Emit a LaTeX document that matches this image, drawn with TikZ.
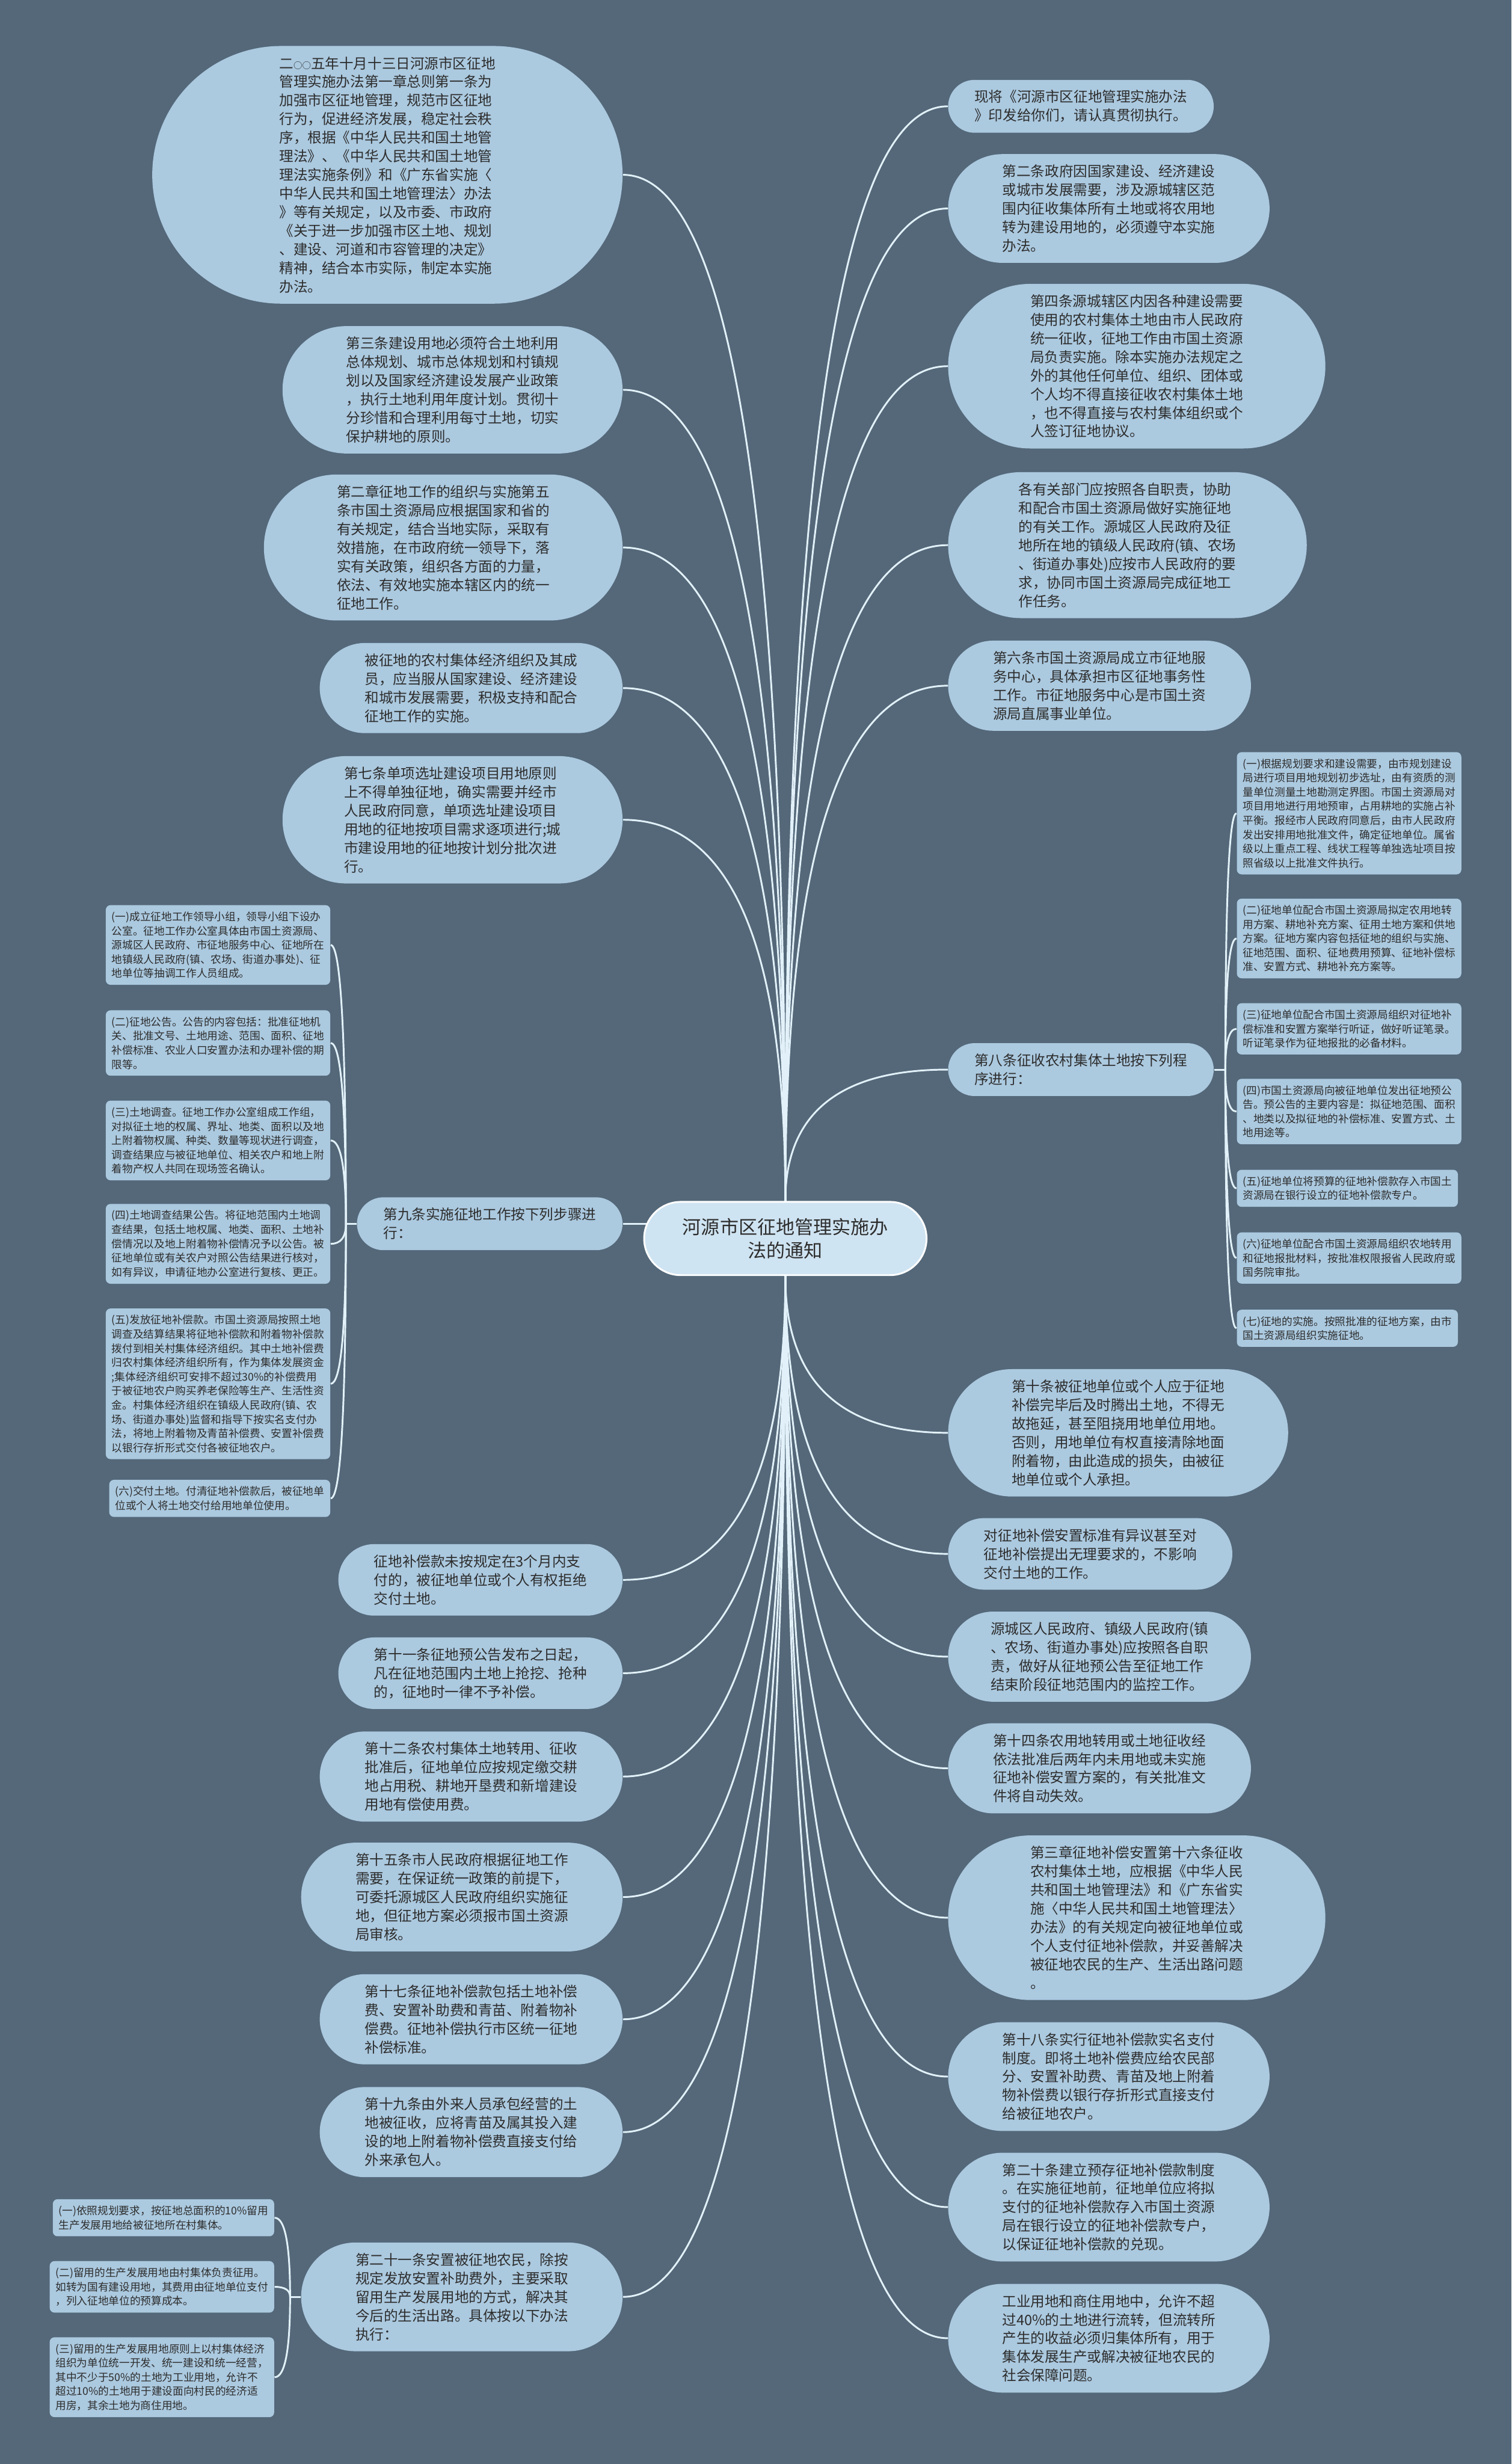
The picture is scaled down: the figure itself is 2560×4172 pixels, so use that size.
\documentclass[tikz,border=0pt]{standalone}
\usepackage{fontspec}
\setmainfont{Noto Sans CJK SC}
\usetikzlibrary{calc, shapes.misc}
\definecolor{slate}{RGB}{84,104,121}
\definecolor{pale}{RGB}{171,201,223}
\definecolor{rootblue}{RGB}{207,228,242}
\definecolor{wire}{RGB}{226,241,249}
\definecolor{ink}{RGB}{45,45,45}
\pgfdeclarelayer{canvas}
\pgfdeclarelayer{wires}
\pgfsetlayers{canvas,wires,main}

\begin{document}
\begin{tikzpicture}[x=0.01cm, y=-0.01cm,
    root/.style={rounded rectangle, fill=rootblue, draw=white, line width=0.03cm,
                 text=ink, align=center, inner sep=0.05cm,
                 minimum width=4.88cm, minimum height=1.24cm,
                 font=\fontsize{9pt}{11.4pt}\selectfont},
    % #1 = number of text lines
    topic/.style={rounded rectangle, fill=pale, text=ink, align=left,
                  inner sep=0.05cm,
                  minimum width={(0.315*#1+3.965)*1cm},
                  minimum height={(0.315*#1+0.265)*1cm},
                  font=\fontsize{6.83pt}{8.96pt}\selectfont},
    note/.style={rectangle, fill=pale, rounded corners=0.08cm, text=ink,
                 align=left, inner xsep=0.1cm, inner ysep=0.11cm,
                 font=\fontsize{5.12pt}{6.83pt}\selectfont},
    link/.style={draw=wire, line width=0.03cm},
    branch/.style={to path={.. controls ($(\tikztostart)!0.667!(\tikztostart |- \tikztotarget)$)
                   and ($(\tikztotarget)!0.667!(\tikztostart |- \tikztotarget)$) .. (\tikztotarget)}}]

\useasboundingbox (0,0) rectangle (2560,4172);
\begin{pgfonlayer}{canvas}
\fill[slate] (0,0) rectangle (2560,4172);
\end{pgfonlayer}

% ════════════════════════════════════════
%  CENTER
% ════════════════════════════════════════
\node[root] (ctr) at (1330,2097) {河源市区征地管理实施办\\法的通知};

% ════════════════════════════════════════
%  LEFT: articles
% ════════════════════════════════════════
\node[topic=13, anchor=east] (art1) at (1055,296)
    {二{\fontsize{4.2pt}{4.2pt}\selectfont ○○}五年十月十三日河源市区征地\\管理实施办法第一章总则第一条为\\加强市区征地管理，规范市区征地\\行为，促进经济发展，稳定社会秩\\序，根据《中华人民共和国土地管\\理法》、《中华人民共和国土地管\\理法实施条例》和《广东省实施〈\\中华人民共和国土地管理法〉办法\\》等有关规定，以及市委、市政府\\《关于进一步加强市区土地、规划\\、建设、河道和市容管理的决定》\\精神，结合本市实际，制定本实施\\办法。};
\node[topic=6, anchor=east] (art3) at (1055,660)
    {第三条建设用地必须符合土地利用\\总体规划、城市总体规划和村镇规\\划以及国家经济建设发展产业政策\\，执行土地利用年度计划。贯彻十\\分珍惜和合理利用每寸土地，切实\\保护耕地的原则。};
\node[topic=7, anchor=east] (art5) at (1055,927)
    {第二章征地工作的组织与实施第五\\条市国土资源局应根据国家和省的\\有关规定，结合当地实际，采取有\\效措施，在市政府统一领导下，落\\实有关政策，组织各方面的力量，\\依法、有效地实施本辖区内的统一\\征地工作。};
\node[topic=4, anchor=east] (obey) at (1055,1165)
    {被征地的农村集体经济组织及其成\\员，应当服从国家建设、经济建设\\和城市发展需要，积极支持和配合\\征地工作的实施。};
\node[topic=6, anchor=east] (art7) at (1055,1388)
    {第七条单项选址建设项目用地原则\\上不得单独征地，确实需要并经市\\人民政府同意，单项选址建设项目\\用地的征地按项目需求逐项进行;城\\市建设用地的征地按计划分批次进\\行。};

% Article 9 and its steps
\node[topic=2, anchor=east] (art9) at (1055,2072)
    {第九条实施征地工作按下列步骤进\\行：};
\node[note, anchor=east] (s91) at (560,1600)
    {(一)成立征地工作领导小组，领导小组下设办\\公室。征地工作办公室具体由市国土资源局、\\源城区人民政府、市征地服务中心、征地所在\\地镇级人民政府(镇、农场、街道办事处)、征\\地单位等抽调工作人员组成。};
\node[note, anchor=east] (s92) at (560,1766)
    {(二)征地公告。公告的内容包括：批准征地机\\关、批准文号、土地用途、范围、面积、征地\\补偿标准、农业人口安置办法和办理补偿的期\\限等。};
\node[note, anchor=east] (s93) at (560,1931)
    {(三)土地调查。征地工作办公室组成工作组，\\对拟征土地的权属、界址、地类、面积以及地\\上附着物权属、种类、数量等现状进行调查，\\调查结果应与被征地单位、相关农户和地上附\\着物产权人共同在现场签名确认。};
\node[note, anchor=east] (s94) at (560,2106)
    {(四)土地调查结果公告。将征地范围内土地调\\查结果，包括土地权属、地类、面积、土地补\\偿情况以及地上附着物补偿情况予以公告。被\\征地单位或有关农户对照公告结果进行核对，\\如有异议，申请征地办公室进行复核、更正。};
\node[note, anchor=east] (s95) at (560,2343)
    {(五)发放征地补偿款。市国土资源局按照土地\\调查及结算结果将征地补偿款和附着物补偿款\\拨付到相关村集体经济组织。其中土地补偿费\\归农村集体经济组织所有，作为集体发展资金\\;集体经济组织可安排不超过30\%的补偿费用\\于被征地农户购买养老保险等生产、生活性资\\金。村集体经济组织在镇级人民政府(镇、农\\场、街道办事处)监督和指导下按实名支付办\\法，将地上附着物及青苗补偿费、安置补偿费\\以银行存折形式交付各被征地农户。};
\node[note, anchor=east] (s96) at (560,2537)
    {(六)交付土地。付清征地补偿款后，被征地单\\位或个人将土地交付给用地单位使用。};

\node[topic=3, anchor=east] (pay3m) at (1055,2675)
    {征地补偿款未按规定在3个月内支\\付的，被征地单位或个人有权拒绝\\交付土地。};
\node[topic=3, anchor=east] (art11) at (1055,2833)
    {第十一条征地预公告发布之日起，\\凡在征地范围内土地上抢挖、抢种\\的，征地时一律不予补偿。};
\node[topic=4, anchor=east] (art12) at (1055,3008)
    {第十二条农村集体土地转用、征收\\批准后，征地单位应按规定缴交耕\\地占用税、耕地开垦费和新增建设\\用地有偿使用费。};
\node[topic=5, anchor=east] (art15) at (1055,3212)
    {第十五条市人民政府根据征地工作\\需要，在保证统一政策的前提下，\\可委托源城区人民政府组织实施征\\地，但征地方案必须报市国土资源\\局审核。};
\node[topic=4, anchor=east] (art17) at (1055,3419)
    {第十七条征地补偿款包括土地补偿\\费、安置补助费和青苗、附着物补\\偿费。征地补偿执行市区统一征地\\补偿标准。};
\node[topic=4, anchor=east] (art19) at (1055,3610)
    {第十九条由外来人员承包经营的土\\地被征收，应将青苗及属其投入建\\设的地上附着物补偿费直接支付给\\外来承包人。};

% Article 21 and its measures
\node[topic=5, anchor=east] (art21) at (1055,3889)
    {第二十一条安置被征地农民，除按\\规定发放安置补助费外，主要采取\\留用生产发展用地的方式，解决其\\今后的生活出路。具体按以下办法\\执行：};
\node[note, anchor=east] (s211) at (465,3755)
    {(一)依照规划要求，按征地总面积的10\%留用\\生产发展用地给被征地所在村集体。};
\node[note, anchor=east] (s212) at (465,3872)
    {(二)留用的生产发展用地由村集体负责征用。\\如转为国有建设用地，其费用由征地单位支付\\，列入征地单位的预算成本。};
\node[note, anchor=east] (s213) at (465,4025)
    {(三)留用的生产发展用地原则上以村集体经济\\组织为单位统一开发、统一建设和统一经营，\\其中不少于50\%的土地为工业用地，允许不\\超过10\%的土地用于建设面向村民的经济适\\用房，其余土地为商住用地。};

% ════════════════════════════════════════
%  RIGHT: articles
% ════════════════════════════════════════
\node[topic=2, anchor=west] (notice) at (1605,180)
    {现将《河源市区征地管理实施办法\\》印发给你们，请认真贯彻执行。};
\node[topic=5, anchor=west] (art2) at (1605,353)
    {第二条政府因国家建设、经济建设\\或城市发展需要，涉及源城辖区范\\围内征收集体所有土地或将农用地\\转为建设用地的，必须遵守本实施\\办法。};
\node[topic=8, anchor=west] (art4) at (1605,620)
    {第四条源城辖区内因各种建设需要\\使用的农村集体土地由市人民政府\\统一征收，征地工作由市国土资源\\局负责实施。除本实施办法规定之\\外的其他任何单位、组织、团体或\\个人均不得直接征收农村集体土地\\，也不得直接与农村集体组织或个\\人签订征地协议。};
\node[topic=7, anchor=west] (depts) at (1605,923)
    {各有关部门应按照各自职责，协助\\和配合市国土资源局做好实施征地\\的有关工作。源城区人民政府及征\\地所在地的镇级人民政府(镇、农场\\、街道办事处)应按市人民政府的要\\求，协同市国土资源局完成征地工\\作任务。};
\node[topic=4, anchor=west] (art6) at (1605,1161)
    {第六条市国土资源局成立市征地服\\务中心，具体承担市区征地事务性\\工作。市征地服务中心是市国土资\\源局直属事业单位。};

% Article 8 and its procedure
\node[topic=2, anchor=west] (art8) at (1605,1811)
    {第八条征收农村集体土地按下列程\\序进行：};
\node[note, anchor=west] (s81) at (2094,1377)
    {(一)根据规划要求和建设需要，由市规划建设\\局进行项目用地规划初步选址，由有资质的测\\量单位测量土地勘测定界图。市国土资源局对\\项目用地进行用地预审，占用耕地的实施占补\\平衡。报经市人民政府同意后，由市人民政府\\发出安排用地批准文件，确定征地单位。属省\\级以上重点工程、线状工程等单独选址项目按\\照省级以上批准文件执行。};
\node[note, anchor=west] (s82) at (2094,1589)
    {(二)征地单位配合市国土资源局拟定农用地转\\用方案、耕地补充方案、征用土地方案和供地\\方案。征地方案内容包括征地的组织与实施、\\征地范围、面积、征地费用预算、征地补偿标\\准、安置方式、耕地补充方案等。};
\node[note, anchor=west] (s83) at (2094,1742)
    {(三)征地单位配合市国土资源局组织对征地补\\偿标准和安置方案举行听证，做好听证笔录。\\听证笔录作为征地报批的必备材料。};
\node[note, anchor=west] (s84) at (2094,1882)
    {(四)市国土资源局向被征地单位发出征地预公\\告。预公告的主要内容是：拟征地范围、面积\\、地类以及拟征地的补偿标准、安置方式、土\\地用途等。};
\node[note, anchor=west] (s85) at (2094,2012)
    {(五)征地单位将预算的征地补偿款存入市国土\\资源局在银行设立的征地补偿款专户。};
\node[note, anchor=west] (s86) at (2094,2130)
    {(六)征地单位配合市国土资源局组织农地转用\\和征地报批材料，按批准权限报省人民政府或\\国务院审批。};
\node[note, anchor=west] (s87) at (2094,2249)
    {(七)征地的实施。按照批准的征地方案，由市\\国土资源局组织实施征地。};

\node[topic=6, anchor=west] (art10) at (1605,2426)
    {第十条被征地单位或个人应于征地\\补偿完毕后及时腾出土地，不得无\\故拖延，甚至阻挠用地单位用地。\\否则，用地单位有权直接清除地面\\附着物，由此造成的损失，由被征\\地单位或个人承担。};
\node[topic=3, anchor=west] (dispute) at (1605,2631)
    {对征地补偿安置标准有异议甚至对\\征地补偿提出无理要求的，不影响\\交付土地的工作。};
\node[topic=4, anchor=west] (monitor) at (1605,2805)
    {源城区人民政府、镇级人民政府(镇\\、农场、街道办事处)应按照各自职\\责，做好从征地预公告至征地工作\\结束阶段征地范围内的监控工作。};
\node[topic=4, anchor=west] (art14) at (1605,2994)
    {第十四条农用地转用或土地征收经\\依法批准后两年内未用地或未实施\\征地补偿安置方案的，有关批准文\\件将自动失效。};
\node[topic=8, anchor=west] (art16) at (1605,3247)
    {第三章征地补偿安置第十六条征收\\农村集体土地，应根据《中华人民\\共和国土地管理法》和《广东省实\\施〈中华人民共和国土地管理法〉\\办法》的有关规定向被征地单位或\\个人支付征地补偿款，并妥善解决\\被征地农民的生产、生活出路问题\\。};
\node[topic=5, anchor=west] (art18) at (1605,3516)
    {第十八条实行征地补偿款实名支付\\制度。即将土地补偿费应给农民部\\分、安置补助费、青苗及地上附着\\物补偿费以银行存折形式直接支付\\给被征地农户。};
\node[topic=5, anchor=west] (art20) at (1605,3737)
    {第二十条建立预存征地补偿款制度\\。在实施征地前，征地单位应将拟\\支付的征地补偿款存入市国土资源\\局在银行设立的征地补偿款专户，\\以保证征地补偿款的兑现。};
\node[topic=5, anchor=west] (share) at (1605,3959)
    {工业用地和商住用地中，允许不超\\过40\%的土地进行流转，但流转所\\产生的收益必须归集体所有，用于\\集体发展生产或解决被征地农民的\\社会保障问题。};

% ════════════════════════════════════════
%  Connectors
% ════════════════════════════════════════
\coordinate (j8) at ($(art8.east)+(19,0)$);
\coordinate (j9) at ($(art9.west)+(-18,0)$);
\coordinate (j21) at ($(art21.west)+(-18,0)$);

\begin{pgfonlayer}{wires}
% upper half
\draw[link] (ctr.north) to[branch] (art1.east);
\draw[link] (ctr.north) to[branch] (art3.east);
\draw[link] (ctr.north) to[branch] (art5.east);
\draw[link] (ctr.north) to[branch] (obey.east);
\draw[link] (ctr.north) to[branch] (art7.east);
\draw[link] (ctr.north) to[branch] (notice.west);
\draw[link] (ctr.north) to[branch] (art2.west);
\draw[link] (ctr.north) to[branch] (art4.west);
\draw[link] (ctr.north) to[branch] (depts.west);
\draw[link] (ctr.north) to[branch] (art6.west);
\draw[link] (ctr.north) to[branch] (art8.west);
% level with the root
\draw[link] (art9.east) -- (art9.east -| ctr);
% lower half
\draw[link] (ctr.south) to[branch] (pay3m.east);
\draw[link] (ctr.south) to[branch] (art11.east);
\draw[link] (ctr.south) to[branch] (art12.east);
\draw[link] (ctr.south) to[branch] (art15.east);
\draw[link] (ctr.south) to[branch] (art17.east);
\draw[link] (ctr.south) to[branch] (art19.east);
\draw[link] (ctr.south) to[branch] (art21.east);
\draw[link] (ctr.south) to[branch] (art10.west);
\draw[link] (ctr.south) to[branch] (dispute.west);
\draw[link] (ctr.south) to[branch] (monitor.west);
\draw[link] (ctr.south) to[branch] (art14.west);
\draw[link] (ctr.south) to[branch] (art16.west);
\draw[link] (ctr.south) to[branch] (art18.west);
\draw[link] (ctr.south) to[branch] (art20.west);
\draw[link] (ctr.south) to[branch] (share.west);

% article 8 steps
\draw[link] (art8.east) -- (j8);
\draw[link] (j8) to[branch] (s81.west);
\draw[link] (j8) to[branch] (s82.west);
\draw[link] (j8) to[branch] (s83.west);
\draw[link] (j8) to[branch] (s84.west);
\draw[link] (j8) to[branch] (s85.west);
\draw[link] (j8) to[branch] (s86.west);
\draw[link] (j8) to[branch] (s87.west);

% article 9 steps
\draw[link] (art9.west) -- (j9);
\draw[link] (j9) to[branch] (s91.east);
\draw[link] (j9) to[branch] (s92.east);
\draw[link] (j9) to[branch] (s93.east);
\draw[link] (j9) to[branch] (s94.east);
\draw[link] (j9) to[branch] (s95.east);
\draw[link] (j9) to[branch] (s96.east);

% article 21 measures
\draw[link] (art21.west) -- (j21);
\draw[link] (j21) to[branch] (s211.east);
\draw[link] (j21) to[branch] (s212.east);
\draw[link] (j21) to[branch] (s213.east);
\end{pgfonlayer}

\end{tikzpicture}
\end{document}
